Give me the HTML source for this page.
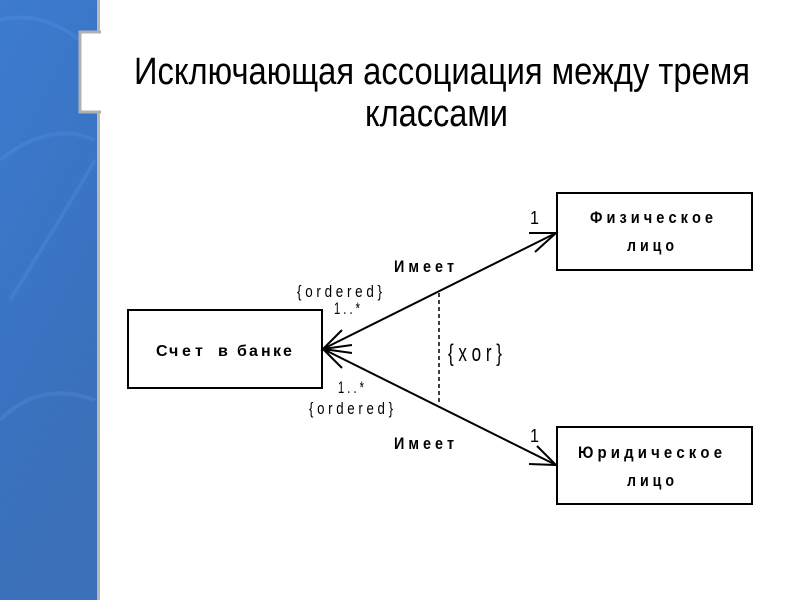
<!DOCTYPE html>
<html><head><meta charset="utf-8"><style>
html,body{margin:0;padding:0;width:800px;height:600px;overflow:hidden;background:#fff}
</style></head><body>
<svg width="800" height="600" xmlns="http://www.w3.org/2000/svg" font-family="Liberation Sans, DejaVu Sans, sans-serif">
<defs>
<linearGradient id="bg" x1="0" y1="0" x2="0.3" y2="1">
<stop offset="0" stop-color="#3d7bd0"/><stop offset="0.5" stop-color="#3a74c4"/><stop offset="1" stop-color="#3b6fb8"/>
</linearGradient>
</defs>
<rect x="0" y="0" width="97" height="600" fill="url(#bg)"/>
<path d="M0 20 Q40 10 80 40 M0 160 Q50 120 95 140 M10 300 Q60 220 95 160 M0 420 Q40 380 95 400" stroke="#5a9ae6" stroke-width="4" fill="none" opacity="0.25"/>
<rect x="97" y="0" width="3" height="600" fill="#b8b8b8"/>
<rect x="79" y="31" width="22" height="82" fill="#fff"/>
<path d="M101 32 H80 V112 H101" stroke="#b0b0b0" stroke-width="3" fill="none"/>

<text x="134" y="84" font-size="38" textLength="616" lengthAdjust="spacingAndGlyphs">Исключающая ассоциация между тремя</text>
<text x="365" y="126" font-size="38" textLength="143" lengthAdjust="spacingAndGlyphs">классами</text>

<g fill="none" stroke="#000" stroke-width="2">
<rect x="128" y="310" width="194" height="78"/>
<rect x="557" y="193" width="195" height="77"/>
<rect x="557" y="427" width="195" height="77"/>
<line x1="323" y1="349" x2="556" y2="233"/>
<line x1="323" y1="349" x2="556" y2="465"/>
<path d="M529 233 L556 233 L535 252"/>
<path d="M537 446 L556 465 L529 464"/>
<path d="M342 330 L323 349 L352 345 M323 349 L352 353 M342 368 L323 349"/>
</g>
<line x1="439" y1="293" x2="439" y2="405" stroke="#000" stroke-width="1.5" stroke-dasharray="4,3"/>

<g font-weight="bold" font-size="17">
<text x="590" y="223" textLength="123" lengthAdjust="spacingAndGlyphs">Ф и з и ч е с к о е</text>
<text x="627" y="251" textLength="47" lengthAdjust="spacingAndGlyphs">л и ц о</text>
<text x="578" y="458" textLength="144" lengthAdjust="spacingAndGlyphs">Ю р и д и ч е с к о е</text>
<text x="627" y="486" textLength="47" lengthAdjust="spacingAndGlyphs">л и ц о</text>
<text x="156 169 182 195 218 237 249 261 273 283" y="356" font-size="16">Счетвбанке</text>
<text x="394" y="272" textLength="60" lengthAdjust="spacingAndGlyphs">И м е е т</text>
<text x="394" y="449" textLength="60" lengthAdjust="spacingAndGlyphs">И м е е т</text>
</g>
<g font-size="17">
<text x="297" y="297" textLength="85" lengthAdjust="spacingAndGlyphs">{ o r d e r e d }</text>
<text x="334" y="314" textLength="26" lengthAdjust="spacingAndGlyphs">1 . . *</text>
<text x="338" y="393" textLength="26" lengthAdjust="spacingAndGlyphs">1 . . *</text>
<text x="309" y="414" textLength="84" lengthAdjust="spacingAndGlyphs">{ o r d e r e d }</text>
<text x="448" y="361" font-size="24" textLength="54" lengthAdjust="spacingAndGlyphs">{ x o r }</text>
<text x="530" y="224" font-size="18" textLength="9" lengthAdjust="spacingAndGlyphs">1</text>
<text x="530" y="442" font-size="18" textLength="9" lengthAdjust="spacingAndGlyphs">1</text>
</g>
</svg>
</body></html>
